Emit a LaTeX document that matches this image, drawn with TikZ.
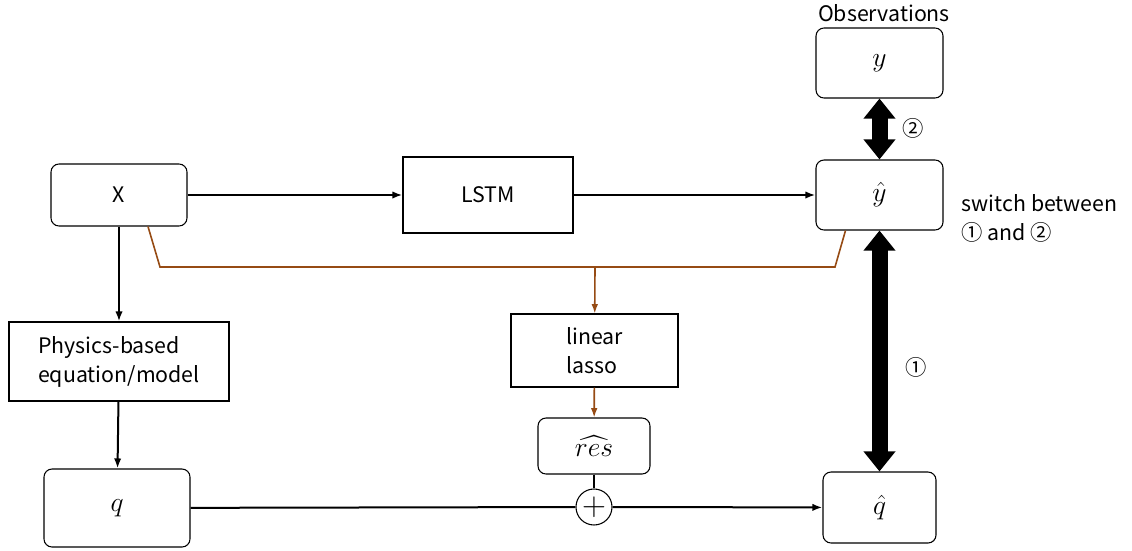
\documentclass[tikz,border=0pt]{standalone}
\usepackage{amsmath}
\usepackage{fontspec}
\setmainfont{Noto Sans CJK SC}
\usepackage{tikz}
\usetikzlibrary{arrows.meta,calc,positioning}

\definecolor{lassobrown}{RGB}{150,75,20}

\begin{document}
\begin{tikzpicture}[x=0.75pt,y=0.75pt,yscale=-1,xscale=1,
  font=\fontsize{16}{21.75}\selectfont,
  rbox/.style={draw,rounded corners=6pt,line width=0.8pt,inner sep=0pt},
  sbox/.style={draw,line width=0.8pt,inner sep=0pt},
  mathbox/.style={rbox,font=\fontsize{20}{24}\selectfont},
  conn/.style={line width=1.5pt,-{Latex[length=7.5pt,width=5.5pt]}},
  brconn/.style={line width=1.2pt,draw=lassobrown},
  bigarr/.style={line width=12pt,{Triangle[width=23pt,length=15pt]}-{Triangle[width=23pt,length=15pt]}}
]
%set diagram left start at 0, and has height of 550
\useasboundingbox (0,0) rectangle (1132,550);

%Shape: Rounded Rectangle [inputs]
\node[rbox,minimum width=102pt,minimum height=46.5pt] (xin) at (119,195) {X};
%Shape: Rectangle [lstm]
\node[sbox,minimum width=127.5pt,minimum height=57pt] (lstm) at (488,195) {LSTM};
%Shape: Rounded Rectangle [observations]
\node[mathbox,minimum width=95.25pt,minimum height=52.5pt] (yobs) at (879.5,63) {$y$};
%Shape: Rounded Rectangle [prediction]
\node[mathbox,minimum width=95.25pt,minimum height=52.5pt] (yhat) at (879.5,195) {$\hat{y}$};
%Shape: Rectangle [physics model]
\node[sbox,minimum width=165pt,minimum height=59.25pt,align=left] (phys) at (119,361.5) {Physics-based\\equation/model};
%Shape: Rectangle [lasso]
\node[sbox,minimum width=125.25pt,minimum height=54.75pt,align=left] (lasso) at (594.5,350.5) {linear\\lasso};
%Shape: Rounded Rectangle [residual]
\node[mathbox,minimum width=84pt,minimum height=42pt] (res) at (594,446) {$\widehat{res}$};
%Shape: Circle [sum]
\node[draw,circle,line width=0.8pt,minimum size=27pt,inner sep=0pt] (plus) at (594,507) {\fontsize{24}{24}\selectfont $+$};
%Shape: Rounded Rectangle [q]
\node[mathbox,minimum width=109.5pt,minimum height=58.5pt] (q) at (117,508) {$q$};
%Shape: Rounded Rectangle [q hat]
\node[mathbox,minimum width=84.75pt,minimum height=53.25pt] (qhat) at (879.5,507.5) {$\hat{q}$};

% Text Node
\node (obslbl) at (884,13) {Observations};
% Text Node
\node (two) at (913,128) {②};
% Text Node
\node (one) at (916,367) {①};
% Text Node
\node[anchor=west,align=left] (switch) at (957,218) {switch between\\① and ②};

% Connection
\draw[conn] (xin) -- (lstm);
\draw[conn] (lstm) -- (yhat);
\draw[conn] (xin) -- (phys);
\draw[conn] (phys) -- (q);
\draw[line width=1.5pt] (q) -- (plus);
\draw[conn] (plus) -- (qhat);
\draw[line width=1.5pt] (res) -- (plus);

% Connection (lasso inputs)
\coordinate (bl) at (160,267);
\coordinate (br) at (835,267);
\coordinate (bj) at (595,267);
\draw[brconn] ($(xin.south)+(29,0)$) -- (bl) -- (br) -- ($(yhat.south)+(-34,0)$);
\draw[brconn,-{Latex[length=7pt,width=5pt]}] (bj) -- (lasso);
\draw[brconn,-{Latex[length=7pt,width=5pt]}] (lasso) -- (res);

% Switch arrows
\draw[bigarr] (yobs) -- (yhat);
\draw[bigarr] (yhat) -- (qhat);

\end{tikzpicture}
\end{document}
